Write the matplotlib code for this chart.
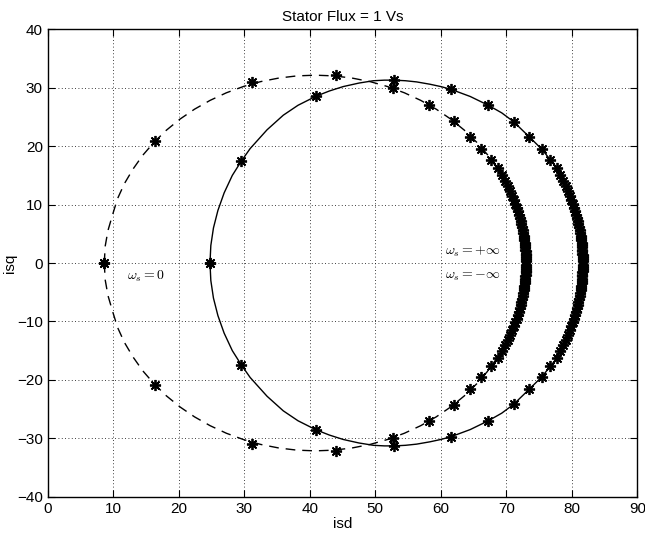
import matplotlib.pyplot as plt

# curva tracejada (metade superior, simetrica em isq)
dash_line_isd = [8.63, 8.75, 9.19, 9.9, 10.64, 11.7, 13.01, 14.5, 16.22, 18.1, 20.18,
                 22.4, 24.78, 27.25, 29.85, 32.5, 35.27, 38.05, 40.85, 43.65, 46.43,
                 49.2, 51.85, 54.45, 56.93, 59.3, 61.52, 63.6, 65.48, 67.2, 68.69,
                 70.0, 71.06, 71.9, 72.51, 72.88, 73.0]
dash_line_isq = [0.0, 2.8, 5.58, 8.3, 11.0, 13.6, 16.08, 18.45, 20.67, 22.73, 24.63,
                 26.33, 27.84, 29.13, 30.21, 31.05, 31.66, 32.03, 32.15, 32.03, 31.66,
                 31.05, 30.21, 29.13, 27.84, 26.33, 24.63, 22.73, 20.67, 18.45, 16.08,
                 13.6, 11.0, 8.3, 5.58, 2.8, 0.0]

# curva continua (metade superior)
solid_line_isd = [24.76, 24.89, 25.29, 25.97, 26.92, 28.17, 29.55, 30.9, 33.47, 35.95,
                  38.2, 40.95, 43.0, 45.1, 47.5, 49.7, 51.4, 52.9, 54.6, 56.3, 58.35,
                  60.0, 61.5, 64.5, 67.25, 69.3, 71.1, 73.5, 75.4, 76.7, 77.7, 78.7,
                  79.7, 80.5, 81.1, 81.45, 81.61, 81.66]
solid_line_isq = [0.0, 3.0, 6.0, 9.0, 12.0, 15.0, 17.45, 19.6, 22.8, 25.3, 27.0, 28.55,
                  29.45, 30.2, 30.8, 31.2, 31.3, 31.3, 31.2, 31.0, 30.6, 30.2, 29.75,
                  28.5, 27.0, 25.7, 24.2, 21.6, 19.5, 17.7, 16.3, 14.0, 11.5, 8.9, 6.2,
                  3.9, 2.0, 0.0]

# pontos marcados (*) - metade superior
dash_star_isd = [8.63, 16.4, 31.2, 44.0, 52.65, 58.25, 62.0, 64.45, 66.2, 67.6, 68.7,
                 69.29, 69.79, 70.21, 70.55, 70.87, 71.13, 71.37, 71.56, 71.74, 71.91,
                 72.06, 72.18, 72.29, 72.40, 72.49, 72.58, 72.65, 72.71, 72.76, 72.81,
                 72.85, 72.89, 72.92, 72.94, 72.96, 72.97, 72.98, 72.99, 73.0]
star_isq = [0.0, 20.9, 30.9, 32.1, 29.9, 27.0, 24.3, 21.6, 19.5, 17.7, 16.2,
            15.0, 14.0, 13.1, 12.3, 11.5, 10.8, 10.1, 9.5, 8.9, 8.3,
            7.7, 7.2, 6.7, 6.2, 5.7, 5.2, 4.7, 4.3, 3.9, 3.5,
            3.1, 2.7, 2.3, 2.0, 1.6, 1.3, 1.0, 0.7, 0.4]
solid_star_isd = [24.76, 29.55, 40.95, 52.9, 61.5, 67.25, 71.1, 73.5, 75.4, 76.7, 77.7,
                  78.2, 78.7, 79.1, 79.4, 79.7, 79.95, 80.2, 80.35, 80.5, 80.65,
                  80.8, 80.9, 81.0, 81.1, 81.2, 81.28, 81.35, 81.4, 81.45, 81.5,
                  81.53, 81.56, 81.59, 81.61, 81.63, 81.64, 81.65, 81.66, 81.66]
solid_star_isq = [0.0, 17.45, 28.55, 31.3, 29.75, 27.0, 24.2, 21.6, 19.5, 17.7, 16.3,
                  15.0, 14.0, 13.1, 12.3, 11.5, 10.8, 10.1, 9.5, 8.9, 8.3,
                  7.7, 7.2, 6.7, 6.2, 5.7, 5.2, 4.7, 4.3, 3.9, 3.5,
                  3.1, 2.7, 2.3, 2.0, 1.6, 1.3, 1.0, 0.7, 0.4]

x_ticks = [0, 10, 20, 30, 40, 50, 60, 70, 80, 90]
y_ticks = [-40, -30, -20, -10, 0, 10, 20, 30, 40]

plt.rcParams['font.family'] = ['Liberation Sans', 'DejaVu Sans']
plt.rcParams['mathtext.fontset'] = 'cm'

fig = plt.figure(figsize=(6.45, 5.37), dpi=100)
ax = fig.add_axes([0.0741, 0.075, 0.914, 0.8704])

star = (8, 2, 0)
for sgn in (1, -1):
    ax.plot(dash_line_isd, [sgn * v for v in dash_line_isq], color='k', lw=1,
            linestyle=(0, (7, 5)))
    ax.plot(solid_line_isd, [sgn * v for v in solid_line_isq], color='k', lw=1)
    ax.plot(dash_star_isd, [sgn * v for v in star_isq], linestyle='none',
            marker=star, ms=8, mew=1.3, color='k')
    ax.plot(solid_star_isd, [sgn * v for v in solid_star_isq], linestyle='none',
            marker=star, ms=8, mew=1.3, color='k')

ax.text(12.1, -2.3, r'$\omega_s = 0$', fontsize=10, va='center')
ax.text(60.6, 2.0, r'$\omega_s = +\infty$', fontsize=10, va='center')
ax.text(60.6, -2.2, r'$\omega_s = -\infty$', fontsize=10, va='center')

ax.set_xlim(0, 90)
ax.set_ylim(-40, 40)
ax.set_xticks(x_ticks)
ax.set_yticks(y_ticks)
ax.tick_params(direction='in', top=True, right=True, labelsize=11, length=5)
ax.grid(True, linestyle=(0, (1, 3)), color='k', lw=0.6)
ax.set_title('Stator Flux = 1 Vs', fontsize=11)
ax.set_xlabel('isd', fontsize=11, labelpad=1)
ax.set_ylabel('isq', fontsize=11, labelpad=0)
for s in ax.spines.values():
    s.set_linewidth(1)

plt.savefig('out.png', dpi=100)
